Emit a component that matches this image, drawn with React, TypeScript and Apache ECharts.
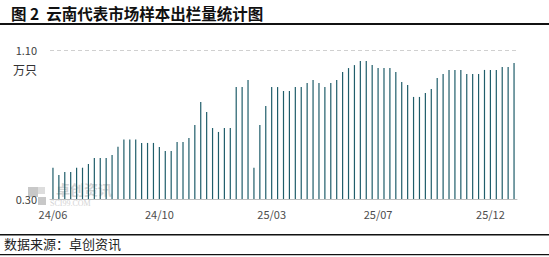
import React, { useEffect, useRef } from "react";
import * as echarts from "echarts";

const title = "图 2  云南代表市场样本出栏量统计图";
const unitLabel = "万只";
const sourceText = "数据来源：卓创资讯";
const tickLabels = ["24/06", "24/10", "25/03", "25/07", "25/12"];
const tickIndices = [0, 18, 37, 55, 74];
const values = [
  0.468, 0.429, 0.445, 0.445, 0.468, 0.468, 0.488, 0.52, 0.52, 0.52,
  0.536, 0.581, 0.619, 0.619, 0.619, 0.601, 0.601, 0.601, 0.579, 0.558,
  0.558, 0.606, 0.606, 0.628, 0.697, 0.821, 0.767, 0.681, 0.66, 0.681,
  0.681, 0.901, 0.901, 0.939, 0.468, 0.697, 0.799, 0.901, 0.901, 0.88,
  0.88, 0.901, 0.901, 0.923, 0.939, 0.923, 0.901, 0.923, 0.939, 0.982,
  1.003, 1.019, 1.041, 1.041, 1.019, 1.003, 1.003, 1.003, 0.982, 0.928,
  0.912, 0.848, 0.848, 0.869, 0.891, 0.95, 0.971, 0.993, 0.993, 0.993,
  0.971, 0.971, 0.971, 0.993, 0.993, 0.993, 1.009, 1.009, 1.03,
];
const yMin = 0.3;
const yMax = 1.1;

const categories = values.map((_, i) => {
  const k = tickIndices.indexOf(i);
  return k >= 0 ? tickLabels[k] : "";
});

export default function App() {
  const ref = useRef<HTMLDivElement>(null);
  useEffect(() => {
    if (!ref.current) return;
    const chart = echarts.init(ref.current, null, { renderer: "svg" });
    const cjk = "'Noto Sans CJK SC', 'Noto Sans', sans-serif";
    chart.setOption({
      animation: false,
      backgroundColor: "#ffffff",
      grid: { left: 50, right: 32, top: 50, bottom: 58, containLabel: false, outerBoundsMode: "none" },
      xAxis: {
        type: "category",
        data: categories.map((c, i) => ({ value: c || " " + i })),
        boundaryGap: true,
        axisLine: { show: true, lineStyle: { color: "#bfbfbf", width: 1 } },
        axisTick: { show: false },
        axisLabel: {
          interval: 0,
          margin: 9,
          color: "#4d4d4d",
          fontSize: 11,
          fontFamily: cjk,
          formatter: (v: string) => (v.startsWith(" ") ? "" : v),
        },
        splitLine: { show: false },
      },
      yAxis: {
        type: "value",
        min: yMin,
        max: yMax,
        interval: 0.8,
        axisLine: { show: false },
        axisTick: { show: false },
        axisLabel: {
          margin: 13,
          color: "#404040",
          fontSize: 11,
          fontFamily: cjk,
          formatter: (v: number) => v.toFixed(2),
        },
        splitLine: { show: true, lineStyle: { color: "#d0d0d0", type: [4, 3], width: 1 } },
      },
      series: [
        {
          type: "bar",
          data: values,
          barWidth: 1.2,
          itemStyle: { color: "#1f5d6a" },
          z: 3,
        },
      ],
      graphic: [
        { type: "text", left: 11, top: 5, style: { text: title, fontSize: 15.5, fontWeight: "bold", fill: "#111", fontFamily: cjk } },
        { type: "rect", shape: { x: 0, y: 23, width: 549, height: 2 }, style: { fill: "#111" } },
        { type: "text", left: 13, top: 63, style: { text: unitLabel, fontSize: 12, fill: "#333", fontFamily: cjk } },
        { type: "rect", shape: { x: 28, y: 187, width: 10, height: 10 }, style: { fill: "#c8c8c8" }, z: 0 },
        { type: "rect", shape: { x: 38, y: 187, width: 7, height: 7 }, style: { fill: "#dddddd" }, z: 0 },
        { type: "rect", shape: { x: 38, y: 197, width: 8, height: 8 }, style: { fill: "#c8c8c8" }, z: 0 },
        { type: "text", left: 56, top: 182, style: { text: "卓创资讯", fontSize: 14, fontWeight: "bold", fill: "#d4d4d4", fontFamily: cjk }, z: 0 },
        { type: "text", left: 50, top: 199, style: { text: "SCI99.COM", fontSize: 8, fill: "#d4d4d4", fontFamily: "'Liberation Serif', serif" }, z: 0 },
        { type: "rect", shape: { x: 0, y: 234, width: 549, height: 1.5 }, style: { fill: "#111" } },
        { type: "text", left: 4, top: 237, style: { text: sourceText, fontSize: 13, fill: "#222", fontFamily: cjk } },
        { type: "rect", shape: { x: 0, y: 254, width: 549, height: 1.2 }, style: { fill: "#111" } },
      ],
    });
    return () => chart.dispose();
  }, []);
  return (
    <div
      ref={ref}
      style={{ position: "fixed", left: 0, top: 0, width: 549, height: 257 }}
    />
  );
}
